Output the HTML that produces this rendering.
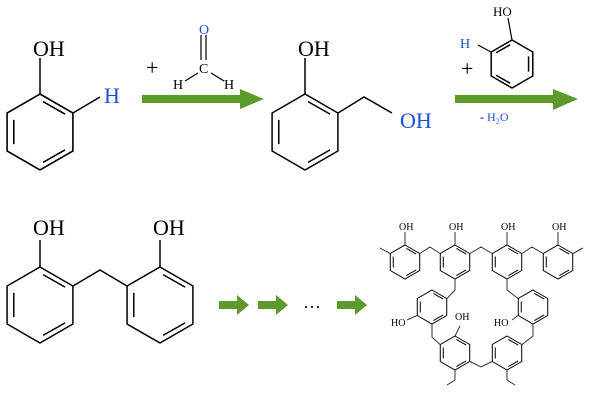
<!DOCTYPE html>
<html><head><meta charset="utf-8"><style>
html,body{margin:0;padding:0;background:#fff;}
svg{display:block}
text{font-family:"Liberation Serif",serif;}
</style></head><body>
<svg width="600" height="404" viewBox="0 0 600 404" xmlns="http://www.w3.org/2000/svg">
<defs>
<g id="hex" fill="none" stroke="#000">
<path vector-effect="non-scaling-stroke" d="M0,-1 L.866,-.5 L.866,.5 L0,1 L-.866,.5 L-.866,-.5Z"/>
<path vector-effect="non-scaling-stroke" d="M.08,-.8 L.66,-.47 M-.69,-.32 L-.69,.32 M.08,.8 L.66,.47"/>
</g>
<g id="arr"><polygon points="0,-4 18,-4 18,-10 30,0 18,10 18,4 0,4" fill="#5c9a2c"/></g>
</defs>
<g stroke="#000" stroke-width="1.5" fill="none">
<use href="#hex" transform="translate(40,132) scale(38)" stroke-width="1.6"/>
<path d="M40,94 L40,58 M73,113 L100,97"/>
<path d="M201,35 L201,60 M206,35 L206,60 M198,73 L185,81 M211,73 L224,81" stroke-width="1.2"/>
<use href="#hex" transform="translate(305,132) scale(38)"/>
<path d="M305,94 L305,58 M338,113 L364,97 L392,113"/>
<use href="#hex" transform="translate(512,64) scale(24) scale(-1,1)"/>
<path d="M512,40 L508,18 M491,52 L478,45" stroke-width="1.2"/>
<use href="#hex" transform="translate(40,305) scale(38)"/>
<use href="#hex" transform="translate(160,305) scale(38)"/>
<path d="M40,267 L40,240 M160,267 L160,240 M73,286 L100,270 L127,286"/>
</g>
<polygon points="142,95 240,95 240,89 264,99 240,109 240,103 142,103" fill="#5c9a2c"/>
<polygon points="455,95 553,95 553,89 578,99 553,110 553,103 455,103" fill="#5c9a2c"/>
<use href="#arr" transform="translate(219,305)"/>
<use href="#arr" transform="translate(258,305)"/>
<use href="#arr" transform="translate(337,305)"/>
<g stroke="#333" stroke-width="1" fill="none">
<use href="#hex" transform="translate(405,262) scale(17)"/>
<use href="#hex" transform="translate(455,262) scale(17)"/>
<use href="#hex" transform="translate(507,262) scale(17)"/>
<use href="#hex" transform="translate(558,262) scale(17)"/>
<use href="#hex" transform="translate(432,307) scale(17)"/>
<use href="#hex" transform="translate(533,307) scale(17)"/>
<use href="#hex" transform="translate(455,353) scale(17)"/>
<use href="#hex" transform="translate(507,353) scale(17)"/>
<path d="M405,245 L405,232 M455,245 L455,232 M507,245 L507,232 M558,245 L558,232
M390,253.5 L380,248 M573,253.5 L583,248
M420,253.5 L430,247 L440,253.5 M470,253.5 L481,247 L492,253.5 M522,253.5 L532,247 L543,253.5
M455,279 L455,290 L447,298.5 M507,279 L507,290 L518,298.5
M417,315.5 L407,320 M432,324 L432,337 L440,344.5
M455,336 L460,326 M470,361.5 L481,367 L492,361.5
M455,370 L455,380 L447,385 M507,370 L507,380 L515,385
M522,344.5 L533,336 L533,324 M518,315.5 L512,320"/>
</g>
<g font-size="10" fill="#000">
<text x="399" y="230">OH</text><text x="449" y="230">OH</text><text x="501" y="230">OH</text><text x="552" y="230">OH</text>
<text x="391" y="326">HO</text><text x="455" y="320">OH</text><text x="494" y="326">HO</text>
</g>
<g fill="#000">
<text x="33" y="56" font-size="22">OH</text>
<text x="104" y="103" font-size="22" fill="#1a4fd6">H</text>
<text x="146" y="75" font-size="22">+</text>
<text x="199" y="34" font-size="14" fill="#1a4fd6">O</text>
<text x="199" y="73" font-size="14">C</text>
<text x="173" y="89" font-size="14">H</text>
<text x="224" y="89" font-size="14">H</text>
<text x="298" y="56" font-size="22">OH</text>
<text x="400" y="128" font-size="22" fill="#1a4fd6">OH</text>
<text x="493" y="16" font-size="13">HO</text>
<text x="460" y="48" font-size="14" fill="#1a4fd6">H</text>
<text x="461" y="76" font-size="22">+</text>
<text x="480" y="121" font-size="12">- <tspan fill="#1a4fd6">H₂O</tspan></text>
<text x="33" y="235" font-size="22">OH</text>
<text x="153" y="235" font-size="22">OH</text>
<text x="303" y="313" font-size="18">···</text>
</g>
</svg>
</body></html>
